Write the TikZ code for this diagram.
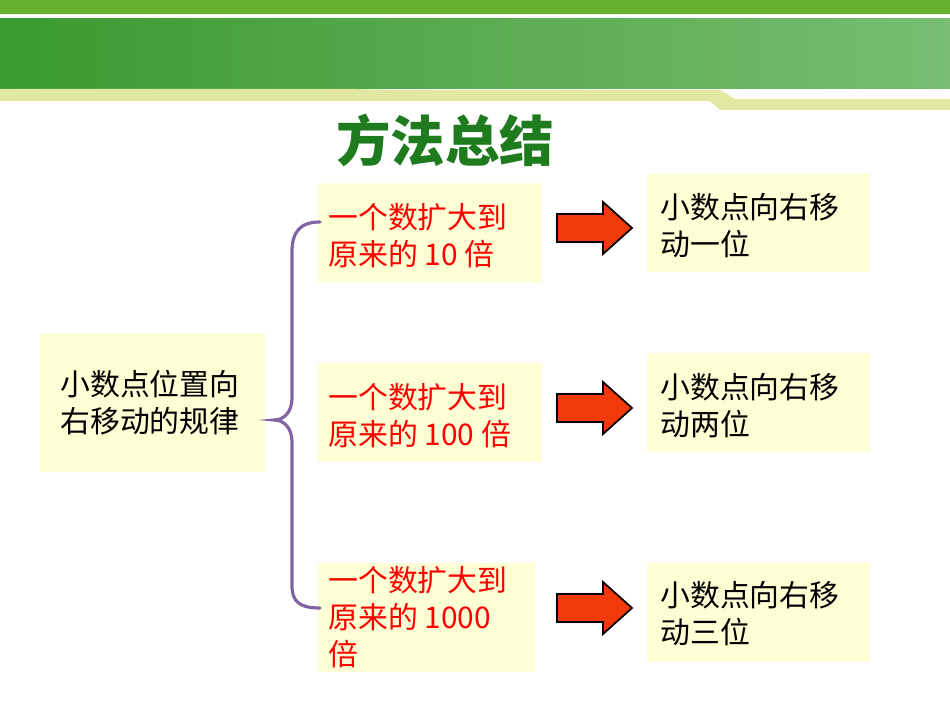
\documentclass[tikz,border=0pt]{standalone}
\usepackage{fontspec}
\newfontfamily\cjk{Noto Sans CJK SC}
\definecolor{boxy}{HTML}{FFFFD5}
\definecolor{tgreen}{HTML}{1E7B1E}
\definecolor{brace}{HTML}{8064A2}
\definecolor{topg}{HTML}{66B030}
\definecolor{gl}{HTML}{3A9A2E}
\definecolor{gr}{HTML}{78BD72}
\definecolor{strip}{HTML}{E2E8A2}
\definecolor{arrf}{HTML}{F23A0C}
\begin{document}
\begin{tikzpicture}[x=0.02cm,y=-0.02cm,
  bx/.style={fill=boxy,draw=none},
  tx/.style={anchor=west,align=left,font=\cjk\fontsize{17}{21}\selectfont,inner sep=0pt},
  arr/.style={draw=black,line width=1pt,fill=arrf,line join=miter}]
\useasboundingbox (0,0) rectangle (950,713);
\fill[topg] (0,0) rectangle (950,14);
\fill[white] (0,14) rectangle (950,19);
\shade[left color=gl, right color=gr] (0,19) rectangle (950,89);
\fill[strip] (0,89) -- (355,89) -- (395,90) -- (720,90) -- (735,99) -- (950,99) -- (950,110) -- (720,110) -- (710,101) -- (0,101) -- cycle;
\node[font=\cjk\bfseries\fontsize{31}{36}\selectfont,text=tgreen] (title) at (445,140) {方法总结};
% boxes
\fill[bx] (40,333) rectangle (265,472);
\fill[bx] (318,183) rectangle (542,282);
\fill[bx] (318,363) rectangle (542,462);
\fill[bx] (318,563) rectangle (535,672);
\fill[bx] (647,174) rectangle (870,272);
\fill[bx] (647,353) rectangle (870,452);
\fill[bx] (647,563) rectangle (870,662);
\node[tx] (L) at (60,403) {小数点位置向\\右移动的规律};
\node[tx,text=red] (m1) at (328,236) {一个数扩大到\\原来的 10 倍};
\node[tx,text=red] (m2) at (328,416) {一个数扩大到\\原来的 100 倍};
\node[tx,text=red] (m3) at (328,617) {一个数扩大到\\原来的 1000\\倍};
\node[tx] (r1) at (660,226) {小数点向右移\\动一位};
\node[tx] (r2) at (660,406) {小数点向右移\\动两位};
\node[tx] (r3) at (660,614) {小数点向右移\\动三位};
% brace
\draw[brace,line width=1.8pt,line cap=round] (320,222) .. controls (300,222) and (292,232) .. (292,252) -- (292,398) .. controls (292,412) and (284,420) .. (274,420) .. controls (284,420) and (292,428) .. (292,442) -- (292,586) .. controls (292,602) and (300,608) .. (320,608);
% arrows
\foreach \y in {228,408,608}{
\draw[arr] (557,\y-14) -- (603,\y-14) -- (603,\y-26) -- (632,\y) -- (603,\y+26) -- (603,\y+14) -- (557,\y+14) -- cycle;}
\end{tikzpicture}
\end{document}
